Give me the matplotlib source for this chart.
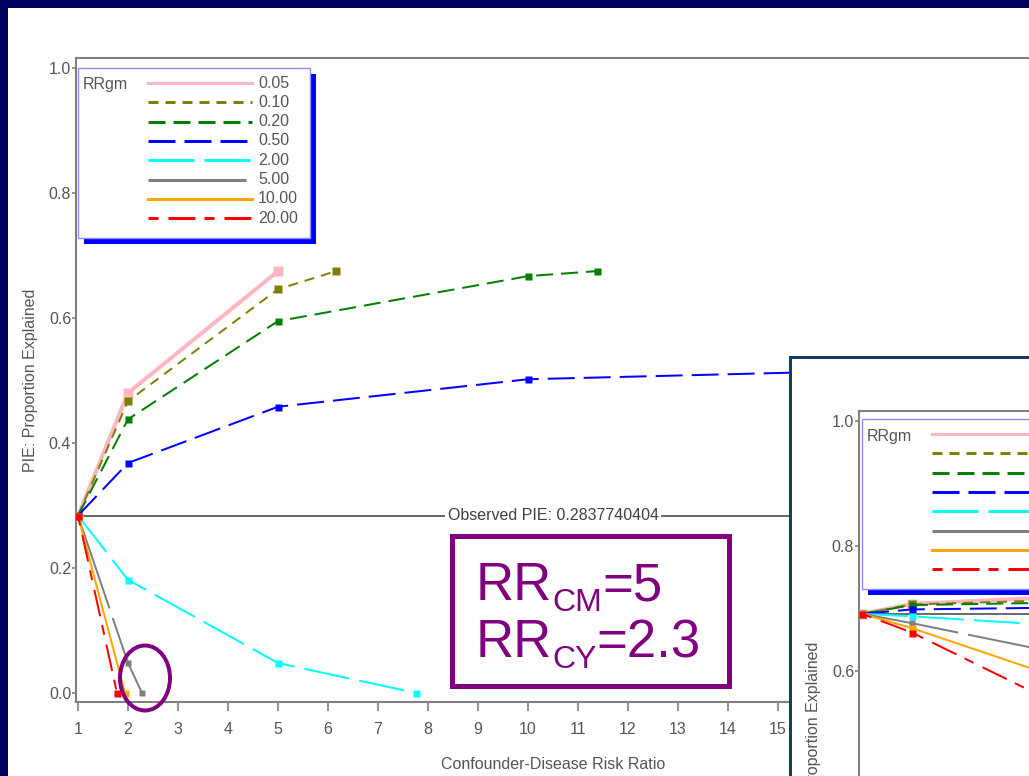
import matplotlib
matplotlib.use('Agg')
import matplotlib.pyplot as plt
from matplotlib.patches import Rectangle, Ellipse
from matplotlib.lines import Line2D
from matplotlib.transforms import Affine2D, blended_transform_factory

plt.rcParams['font.family'] = ['Liberation Sans', 'DejaVu Sans']
plt.rcParams['lines.scale_dashes'] = False

W, H, DPI = 1029, 776, 100

# ---- data -------------------------------------------------------------
rr_gm = ['0.05', '0.10', '0.20', '0.50', '2.00', '5.00', '10.00', '20.00']
observed_pie = 0.2837740404

# main panel: PIE against confounder-disease risk ratio
x_005 = [1, 2, 5]
y_005 = [0.2838, 0.480, 0.675]
x_010 = [1, 2, 5, 6.16]
y_010 = [0.2838, 0.467, 0.646, 0.675]
x_020 = [1, 2, 5, 10, 11.38]
y_020 = [0.2838, 0.438, 0.595, 0.667, 0.675]
x_050 = [1, 2, 5, 10, 20]
y_050 = [0.2838, 0.368, 0.458, 0.502, 0.522]
x_200 = [1, 2, 5, 7.76]
y_200 = [0.2838, 0.181, 0.048, 0.0]
x_500 = [1, 2, 2.28]
y_500 = [0.2838, 0.048, 0.0]
x_1000 = [1, 1.94]
y_1000 = [0.2838, 0.0]
x_2000 = [1, 1.78]
y_2000 = [0.2838, 0.0]

# second panel (partly hidden, overlaid bottom right)
observed_pie2 = 0.691
x2 = [1, 2, 5]
y2_005 = [0.691, 0.707, 0.718]
y2_010 = [0.691, 0.706, 0.713]
y2_020 = [0.691, 0.705, 0.709]
y2_050 = [0.691, 0.698, 0.701]
y2_200 = [0.691, 0.687, 0.672]
y2_500 = [0.691, 0.676, 0.627]
y2_1000 = [0.691, 0.668, 0.587]
y2_2000 = [0.691, 0.661, 0.543]

colors = ['#ffb6c1', '#808000', '#008000', '#0000ff',
          '#00ffff', '#808080', '#ffa500', '#ff0000']
# dash patterns in pixels (None = solid)
dash_px = [None, (10, 7), (17, 8), (27, 9), (46, 10), (98, 10), None, (10, 10, 27, 9)]
line_px = [4, 2, 2, 2, 2, 2, 2, 2]
mark_px = [10, 8, 7, 7, 7, 6, 7, 7]

main_series = [(x_005, y_005), (x_010, y_010), (x_020, y_020), (x_050, y_050),
               (x_200, y_200), (x_500, y_500), (x_1000, y_1000), (x_2000, y_2000)]
inset_series = [(x2, y2_005), (x2, y2_010), (x2, y2_020), (x2, y2_050),
                (x2, y2_200), (x2, y2_500), (x2, y2_1000), (x2, y2_2000)]

PT = 0.72  # points per pixel at 100 dpi
txt_gray = '#555555'
axis_gray = '#808080'
purple = '#800080'

fig = plt.figure(figsize=(W / DPI, H / DPI), dpi=DPI, facecolor='#00005e')
pixT = Affine2D().scale(1, -1).translate(0, H)   # image pixels, y down


def style(i):
    kw = dict(color=colors[i], lw=line_px[i] * PT, marker='s',
              ms=mark_px[i] * PT, mec='none', mfc=colors[i])
    if dash_px[i] is not None:
        kw['dashes'] = [d * PT for d in dash_px[i]]
    return kw


def setup(ax, xlim, ylim):
    ax.set_xlim(*xlim)
    ax.set_ylim(*ylim)
    ax.set_facecolor('white')
    ax.spines['right'].set_visible(False)
    for s in ['left', 'top', 'bottom']:
        ax.spines[s].set_color(axis_gray)
        ax.spines[s].set_linewidth(1.5)
    ax.tick_params(axis='x', length=6.5, width=1.2, color=axis_gray, pad=8,
                   labelsize=11.5, labelcolor=txt_gray)
    ax.tick_params(axis='y', length=3, width=1.2, color=axis_gray, pad=0.5,
                   labelsize=11.5, labelcolor=txt_gray)
    ax.set_ylabel('PIE: Proportion Explained', fontsize=11.5, color=txt_gray, labelpad=8)


def draw_legend(left, top, z, labels=True):
    fig.add_artist(Rectangle((left + 6, top + 6), 232, 170, fc='#0000ff', ec='none',
                             transform=pixT, zorder=z))
    fig.add_artist(Rectangle((left, top), 232, 170, fc='white', ec='#8c8cff', lw=1,
                             transform=pixT, zorder=z))
    fig.text(left + 5, top + 17, 'RRgm', transform=pixT, fontsize=11.5,
             color=txt_gray, va='center', ha='left', zorder=z)
    for i, lab in enumerate(rr_gm):
        yy = top + 15 + i * 19.3
        kw = dict(color=colors[i], lw=3 * PT)
        if dash_px[i] is not None:
            kw['dashes'] = [d * PT for d in dash_px[i]]
        fig.add_artist(Line2D([left + 70, left + 174], [yy, yy], transform=pixT,
                              zorder=z, **kw))
        if labels:
            fig.text(left + 180, yy, lab, transform=pixT, fontsize=11.5, color=txt_gray,
                     va='center', ha='left', zorder=z)


# slide background
fig.add_artist(Rectangle((8, 8), W, H, fc='white', ec='none', transform=pixT, zorder=-10))

# ---- main panel ---------------------------------------------------------
ax = fig.add_axes([76 / W, (H - 702) / H, 954 / W, 644 / H])
setup(ax, (0.96, 20.04), (-0.0144, 1.016))
ax.set_xticks(range(1, 20))
ax.set_yticks([0, 0.2, 0.4, 0.6, 0.8, 1.0])
ax.set_yticklabels(['0.0', '0.2', '0.4', '0.6', '0.8', '1.0'])
ax.set_xlabel('Confounder-Disease Risk Ratio', fontsize=11.5, color=txt_gray, labelpad=14)
ax.axhline(observed_pie, color='#404040', lw=1.1, zorder=1)
ax.text(0.5, observed_pie, 'Observed PIE: %.10f' % observed_pie,
        transform=blended_transform_factory(ax.transAxes, ax.transData),
        ha='center', va='center', fontsize=11.5, color='#404040',
        bbox=dict(fc='white', ec='none', pad=2), zorder=2)
for i, (xs, ys) in enumerate(main_series):
    ax.plot(xs, ys, zorder=3 + i, **style(i))
draw_legend(78, 68, 1)

# RR annotation box
fig.add_artist(Rectangle((451.5, 535.5), 277, 150, fc='none', ec=purple, lw=5 * PT,
                         transform=pixT, zorder=1))
for yb, sub, rest in [(600, 'CM', '=5'), (657, 'CY', '=2.3')]:
    t1 = ax.text(476, yb, 'RR', transform=pixT, fontsize=38, color=purple,
                 va='baseline', ha='left', clip_on=False)
    t2 = ax.annotate(sub, xy=(1, 0), xycoords=t1, xytext=(0, -5), textcoords='offset points',
                     fontsize=23, color=purple, va='bottom', ha='left', annotation_clip=False)
    ax.annotate(rest, xy=(1, 0), xycoords=t2, xytext=(0, 4.5), textcoords='offset points',
                fontsize=38, color=purple, va='bottom', ha='left', annotation_clip=False)

fig.add_artist(Ellipse((145, 678), 50, 65, fc='none', ec=purple, lw=4 * PT,
                       transform=pixT, zorder=1))

# ---- second panel (overlaid, cut off by slide edge) ---------------------
fig.add_artist(Rectangle((790, 357), 400, 500, fc='white', ec='#163a6b', lw=3 * PT,
                         transform=pixT, zorder=2))
ax2 = fig.add_axes([859 / W, (H - 411 - 644) / H, 954 / W, 644 / H])
ax2.set_zorder(3)
setup(ax2, (0.94, 20.02), (-0.0149, 1.0155))
ax2.set_xticks([])
ax2.set_yticks([0.6, 0.8, 1.0])
ax2.set_yticklabels(['0.6', '0.8', '1.0'])
ax2.axhline(observed_pie2, color='#404040', lw=1.1, zorder=1)
for i, (xs, ys) in enumerate(inset_series):
    ax2.plot(xs, ys, zorder=3 + i, **style(i))
draw_legend(862, 419, 4, labels=False)

fig.savefig('out.png', dpi=DPI, facecolor=fig.get_facecolor())
